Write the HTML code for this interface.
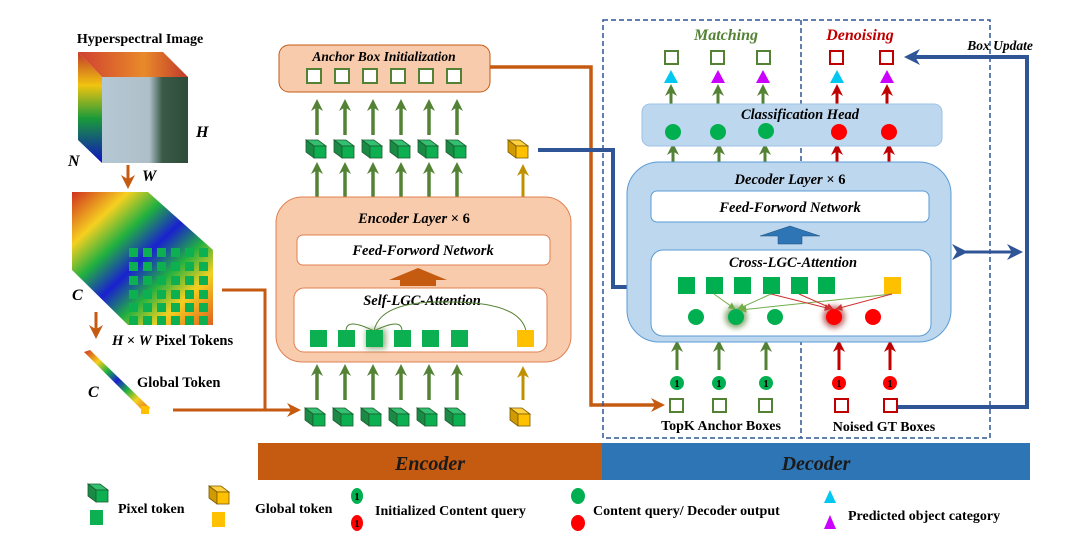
<!DOCTYPE html>
<html><head><meta charset="utf-8"><style>
html,body{margin:0;padding:0;background:#fff;width:1080px;height:552px;overflow:hidden}
svg text{font-family:"Liberation Serif",serif;font-weight:bold}
.it{font-style:italic}
</style></head><body>
<svg width="1080" height="552" viewBox="0 0 1080 552" xmlns="http://www.w3.org/2000/svg">
<defs>
<linearGradient id="rb" x1="0" y1="0" x2="0" y2="1">
<stop offset="0" stop-color="#c0392b"/><stop offset=".3" stop-color="#f1c40f"/><stop offset=".6" stop-color="#1a9a3a"/><stop offset="1" stop-color="#1010c0"/></linearGradient>
<linearGradient id="rbt" x1="0" y1="0" x2="1" y2="0">
<stop offset="0" stop-color="#d04030"/><stop offset=".6" stop-color="#e88a2a"/><stop offset="1" stop-color="#c0392b"/></linearGradient>
<linearGradient id="rbd" x1="0" y1="0" x2="1" y2="1">
<stop offset="0" stop-color="#d03020"/><stop offset=".2" stop-color="#f5d020"/><stop offset=".35" stop-color="#20b040"/><stop offset=".5" stop-color="#1a20d0"/><stop offset=".65" stop-color="#20b040"/><stop offset=".8" stop-color="#f5d020"/><stop offset="1" stop-color="#e06020"/></linearGradient>
<linearGradient id="sea" x1="0" y1="0" x2="1" y2="0">
<stop offset="0" stop-color="#b5c8d3"/><stop offset=".55" stop-color="#aebfc9"/><stop offset=".7" stop-color="#3b5a48"/><stop offset="1" stop-color="#2e4c3a"/></linearGradient>
<g id="gc"><polygon points="0,0 12,0 20,6 8,6" fill="#33c070" stroke="#1d5e30" stroke-width=".8"/><polygon points="0,0 8,6 8,18 0,12" fill="#1a8a45" stroke="#1d5e30" stroke-width=".8"/><rect x="8" y="6" width="12" height="12" fill="#0cb050" stroke="#1d5e30" stroke-width=".8"/></g>
<g id="yc"><polygon points="0,0 12,0 20,6 8,6" fill="#ffd040" stroke="#7a5a00" stroke-width=".8"/><polygon points="0,0 8,6 8,18 0,12" fill="#d09a00" stroke="#7a5a00" stroke-width=".8"/><rect x="8" y="6" width="12" height="12" fill="#ffc000" stroke="#7a5a00" stroke-width=".8"/></g>
<marker id="ag" viewBox="0 0 10 10" refX="5" refY="5" markerWidth="12" markerHeight="12" markerUnits="userSpaceOnUse" orient="auto"><path d="M0,0 L10,5 L0,10 L3,5z" fill="#548235"/></marker>
<marker id="ay" viewBox="0 0 10 10" refX="5" refY="5" markerWidth="12" markerHeight="12" markerUnits="userSpaceOnUse" orient="auto"><path d="M0,0 L10,5 L0,10 L3,5z" fill="#bf9000"/></marker>
<marker id="ar" viewBox="0 0 10 10" refX="5" refY="5" markerWidth="12" markerHeight="12" markerUnits="userSpaceOnUse" orient="auto"><path d="M0,0 L10,5 L0,10 L3,5z" fill="#c00000"/></marker>
<marker id="ao" viewBox="0 0 10 10" refX="5" refY="5" markerWidth="14" markerHeight="14" markerUnits="userSpaceOnUse" orient="auto"><path d="M0,0 L10,5 L0,10 L3,5z" fill="#c55a11"/></marker>
<marker id="ab" viewBox="0 0 10 10" refX="5" refY="5" markerWidth="16" markerHeight="16" markerUnits="userSpaceOnUse" orient="auto"><path d="M0,0 L10,5 L0,10 L3,5z" fill="#2f5597"/></marker>
<marker id="tg" viewBox="0 0 10 10" refX="9" refY="5" markerWidth="7" markerHeight="7" markerUnits="userSpaceOnUse" orient="auto"><path d="M0,0 L10,5 L0,10z" fill="#70ad47"/></marker>
<marker id="tr" viewBox="0 0 10 10" refX="9" refY="5" markerWidth="7" markerHeight="7" markerUnits="userSpaceOnUse" orient="auto"><path d="M0,0 L10,5 L0,10z" fill="#d03030"/></marker>
<filter id="glow" x="-1" y="-1" width="3" height="3"><feGaussianBlur stdDeviation="3"/></filter>
</defs>

<text x="140" y="43" font-size="14" text-anchor="middle">Hyperspectral Image</text>
<polygon points="78,52 163,52 188,77 102,77" fill="url(#rbt)"/>
<polygon points="78,52 102,77 102,163 78,140" fill="url(#rb)"/>
<rect x="102" y="77" width="86" height="86" fill="url(#sea)"/>
<text x="196" y="137" font-size="16" class="it">H</text>
<text x="68" y="166" font-size="16" class="it">N</text>
<text x="142" y="181" font-size="16" class="it">W</text>
<line x1="128" y1="165" x2="128" y2="182" stroke="#c55a11" stroke-width="3" marker-end="url(#ao)"/>
<polygon points="72,192 148,192 213,250 213,325 128,325 72,270" fill="url(#rbd)"/>
<g fill="#0cb050">
<rect x="129" y="248" width="9" height="9"/><rect x="143" y="248" width="9" height="9"/><rect x="157" y="248" width="9" height="9"/><rect x="171" y="248" width="9" height="9"/><rect x="185" y="248" width="9" height="9"/><rect x="199" y="248" width="9" height="9"/>
<rect x="129" y="262" width="9" height="9"/><rect x="143" y="262" width="9" height="9"/><rect x="157" y="262" width="9" height="9"/><rect x="171" y="262" width="9" height="9"/><rect x="185" y="262" width="9" height="9"/><rect x="199" y="262" width="9" height="9"/>
<rect x="129" y="276" width="9" height="9"/><rect x="143" y="276" width="9" height="9"/><rect x="157" y="276" width="9" height="9"/><rect x="171" y="276" width="9" height="9"/><rect x="185" y="276" width="9" height="9"/><rect x="199" y="276" width="9" height="9"/>
<rect x="129" y="290" width="9" height="9"/><rect x="143" y="290" width="9" height="9"/><rect x="157" y="290" width="9" height="9"/><rect x="171" y="290" width="9" height="9"/><rect x="185" y="290" width="9" height="9"/><rect x="199" y="290" width="9" height="9"/>
<rect x="129" y="303" width="9" height="9"/><rect x="143" y="303" width="9" height="9"/><rect x="157" y="303" width="9" height="9"/><rect x="171" y="303" width="9" height="9"/><rect x="185" y="303" width="9" height="9"/><rect x="199" y="303" width="9" height="9"/>
<rect x="129" y="316" width="9" height="9"/><rect x="143" y="316" width="9" height="9"/><rect x="157" y="316" width="9" height="9"/><rect x="171" y="316" width="9" height="9"/><rect x="185" y="316" width="9" height="9"/><rect x="199" y="316" width="9" height="9"/>
</g>
<text x="72" y="300" font-size="16" class="it">C</text>
<line x1="96" y1="312" x2="96" y2="332" stroke="#c55a11" stroke-width="3" marker-end="url(#ao)"/>
<text x="112" y="345" font-size="14.5"><tspan class="it">H</tspan> × <tspan class="it">W</tspan> Pixel Tokens</text>
<polygon points="84,352 90,350 150,408 144,412" fill="url(#rbd)"/>
<rect x="141" y="406" width="8" height="8" fill="#ffc000"/>
<text x="88" y="397" font-size="16" class="it">C</text>
<text x="137" y="387" font-size="14.5">Global  Token</text>
<polyline points="222,290 265,290 265,410" fill="none" stroke="#c55a11" stroke-width="3"/>
<line x1="173" y1="410" x2="294" y2="410" stroke="#c55a11" stroke-width="3" marker-end="url(#ao)"/>

<rect x="279" y="45" width="211" height="47" rx="10" fill="#f8cbad" stroke="#c55a11" stroke-width="1"/>
<text x="384" y="61" font-size="13.5" class="it" text-anchor="middle">Anchor Box Initialization</text>
<g fill="#fff" stroke="#548235" stroke-width="2">
<rect x="307" y="69" width="14" height="14"/><rect x="335" y="69" width="14" height="14"/><rect x="363" y="69" width="14" height="14"/><rect x="391" y="69" width="14" height="14"/><rect x="419" y="69" width="14" height="14"/><rect x="447" y="69" width="14" height="14"/>
</g>
<g stroke="#548235" stroke-width="3.5" marker-end="url(#ag)">
<line x1="317" y1="135" x2="317" y2="105"/><line x1="345" y1="135" x2="345" y2="105"/><line x1="373" y1="135" x2="373" y2="105"/><line x1="401" y1="135" x2="401" y2="105"/><line x1="429" y1="135" x2="429" y2="105"/><line x1="457" y1="135" x2="457" y2="105"/>
<line x1="317" y1="198" x2="317" y2="168"/><line x1="345" y1="198" x2="345" y2="168"/><line x1="373" y1="198" x2="373" y2="168"/><line x1="401" y1="198" x2="401" y2="168"/><line x1="429" y1="198" x2="429" y2="168"/><line x1="457" y1="198" x2="457" y2="168"/>
<line x1="317" y1="400" x2="317" y2="370"/><line x1="345" y1="400" x2="345" y2="370"/><line x1="373" y1="400" x2="373" y2="370"/><line x1="401" y1="400" x2="401" y2="370"/><line x1="429" y1="400" x2="429" y2="370"/><line x1="457" y1="400" x2="457" y2="370"/>
</g>
<g stroke="#bf9000" stroke-width="3" marker-end="url(#ay)"><line x1="523" y1="198" x2="523" y2="170"/><line x1="523" y1="400" x2="523" y2="372"/></g>
<use href="#gc" x="306" y="140"/><use href="#gc" x="334" y="140"/><use href="#gc" x="362" y="140"/><use href="#gc" x="390" y="140"/><use href="#gc" x="418" y="140"/><use href="#gc" x="446" y="140"/>
<use href="#yc" x="508" y="140"/>
<use href="#gc" x="305" y="408"/><use href="#gc" x="333" y="408"/><use href="#gc" x="361" y="408"/><use href="#gc" x="389" y="408"/><use href="#gc" x="417" y="408"/><use href="#gc" x="445" y="408"/>
<use href="#yc" x="510" y="408"/>
<rect x="276" y="197" width="295" height="165" rx="26" fill="#f8cbad" stroke="#e08050" stroke-width="1"/>
<text x="414" y="223" font-size="14.5" class="it" text-anchor="middle">Encoder Layer <tspan font-style="normal">× 6</tspan></text>
<rect x="297" y="235" width="253" height="30" rx="6" fill="#fff" stroke="#e08050"/>
<text x="423" y="255" font-size="14.5" class="it" text-anchor="middle">Feed-Forword Network</text>
<polygon points="400,286 400,280 389,280 418,268 447,280 436,280 436,286" fill="#c55a11"/>
<rect x="294" y="288" width="253" height="64" rx="10" fill="#fff" stroke="#e08050"/>
<text x="422" y="305" font-size="14.5" class="it" text-anchor="middle">Self-LGC-Attention</text>
<path d="M346,331 Q346,317 374,331 Q402,317 402,331" fill="none" stroke="#548235" stroke-width="1"/>
<path d="M374,331 Q380,300 450,302 Q520,302 526,331" fill="none" stroke="#548235" stroke-width="1"/>
<rect x="366" y="329" width="20" height="20" fill="#548235" opacity=".6" filter="url(#glow)"/>
<g fill="#0cb050"><rect x="310" y="330" width="17" height="17"/><rect x="338" y="330" width="17" height="17"/><rect x="366" y="330" width="17" height="17"/><rect x="394" y="330" width="17" height="17"/><rect x="422" y="330" width="17" height="17"/><rect x="451" y="330" width="17" height="17"/></g>
<rect x="517" y="330" width="17" height="17" fill="#ffc000"/>
<polyline points="490,67 591,67 591,405 658,405" fill="none" stroke="#c55a11" stroke-width="3.5" marker-end="url(#ao)"/>
<polyline points="538,150 613,150 613,287 670,287" fill="none" stroke="#2f5597" stroke-width="4" marker-end="url(#ab)"/>

<rect x="258" y="443" width="344" height="37" fill="#c55a11"/>
<rect x="602" y="443" width="428" height="37" fill="#2e75b6"/>
<text x="430" y="470" font-size="20" class="it" text-anchor="middle" fill="#1a1a1a">Encoder</text>
<text x="816" y="470" font-size="20" class="it" text-anchor="middle" fill="#1a1a1a">Decoder</text>

<rect x="603" y="20" width="387" height="418" fill="none" stroke="#2f5597" stroke-width="1.5" stroke-dasharray="5,3"/>
<line x1="801" y1="20" x2="801" y2="438" stroke="#2f5597" stroke-width="1.5" stroke-dasharray="5,3"/>
<text x="726" y="40" font-size="16" class="it" text-anchor="middle" fill="#548235">Matching</text>
<text x="860" y="40" font-size="16" class="it" text-anchor="middle" fill="#c00000">Denoising</text>
<text x="1000" y="50" font-size="13.5" class="it" text-anchor="middle">Box Update</text>
<g fill="#fff" stroke-width="2"><rect x="665" y="51" width="13" height="13" stroke="#548235"/><rect x="711" y="51" width="13" height="13" stroke="#548235"/><rect x="757" y="51" width="13" height="13" stroke="#548235"/><rect x="830" y="51" width="13" height="13" stroke="#c00000"/><rect x="880" y="51" width="13" height="13" stroke="#c00000"/></g>
<polygon points="671,70 678,83 664,83" fill="#00c8f0"/><polygon points="718,70 725,83 711,83" fill="#cc00ff"/><polygon points="763,70 770,83 756,83" fill="#cc00ff"/>
<polygon points="837,70 844,83 830,83" fill="#00c8f0"/><polygon points="887,70 894,83 880,83" fill="#cc00ff"/>
<g stroke="#548235" stroke-width="3" marker-end="url(#ag)"><line x1="671" y1="104" x2="671" y2="90"/><line x1="718" y1="104" x2="718" y2="90"/><line x1="763" y1="104" x2="763" y2="90"/><line x1="673" y1="163" x2="673" y2="149"/><line x1="719" y1="163" x2="719" y2="149"/><line x1="765" y1="163" x2="765" y2="149"/>
<line x1="677" y1="370" x2="677" y2="346"/><line x1="719" y1="370" x2="719" y2="346"/><line x1="766" y1="370" x2="766" y2="346"/></g>
<g stroke="#c00000" stroke-width="3" marker-end="url(#ar)"><line x1="837" y1="104" x2="837" y2="90"/><line x1="887" y1="104" x2="887" y2="90"/><line x1="837" y1="163" x2="837" y2="149"/><line x1="889" y1="163" x2="889" y2="149"/><line x1="839" y1="370" x2="839" y2="346"/><line x1="890" y1="370" x2="890" y2="346"/></g>
<rect x="642" y="104" width="300" height="42" rx="8" fill="#bdd7ee" stroke="#9dc3e6"/>
<text x="800" y="119" font-size="14.5" class="it" text-anchor="middle">Classification Head</text>
<circle cx="673" cy="132" r="8" fill="#00b050"/><circle cx="718" cy="132" r="8" fill="#00b050"/><circle cx="766" cy="131" r="8" fill="#00b050"/><circle cx="839" cy="132" r="8" fill="#ff0000"/><circle cx="889" cy="132" r="8" fill="#ff0000"/>
<rect x="627" y="162" width="324" height="180" rx="32" fill="#bdd7ee" stroke="#5b9bd5"/>
<text x="790" y="184" font-size="14.5" class="it" text-anchor="middle">Decoder Layer <tspan font-style="normal">× 6</tspan></text>
<rect x="651" y="191" width="278" height="31" rx="6" fill="#fff" stroke="#5b9bd5"/>
<text x="790" y="212" font-size="14.5" class="it" text-anchor="middle">Feed-Forword Network</text>
<polygon points="778,244 778,236 760,236 790,226 820,236 802,236 802,244" fill="#2e75b6" stroke="#1f4e79" stroke-width=".5"/>
<rect x="651" y="250" width="280" height="86" rx="12" fill="#fff" stroke="#5b9bd5"/>
<text x="793" y="267" font-size="14.5" class="it" text-anchor="middle">Cross-LGC-Attention</text>
<circle cx="736" cy="317" r="11" fill="#548235" opacity=".7" filter="url(#glow)"/>
<circle cx="834" cy="317" r="11" fill="#a02020" opacity=".7" filter="url(#glow)"/>
<g fill="#00b050"><rect x="678" y="277" width="17" height="17"/><rect x="706" y="277" width="17" height="17"/><rect x="734" y="277" width="17" height="17"/><rect x="763" y="277" width="17" height="17"/><rect x="791" y="277" width="17" height="17"/><rect x="818" y="277" width="17" height="17"/></g>
<rect x="884" y="277" width="17" height="17" fill="#ffc000"/>
<g fill="#00b050"><circle cx="696" cy="317" r="8"/><circle cx="736" cy="317" r="8"/><circle cx="775" cy="317" r="8"/></g>
<g fill="#ff0000"><circle cx="834" cy="317" r="8"/><circle cx="873" cy="317" r="8"/></g>
<g stroke="#70ad47" stroke-width="1" marker-end="url(#tg)"><line x1="714" y1="294" x2="735" y2="309"/><line x1="771" y1="294" x2="738" y2="309"/><line x1="892" y1="294" x2="740" y2="310"/></g>
<g stroke="#d03030" stroke-width="1" marker-end="url(#tr)"><line x1="771" y1="294" x2="831" y2="309"/><line x1="799" y1="294" x2="833" y2="309"/><line x1="892" y1="294" x2="836" y2="309"/></g>
<line x1="960" y1="252" x2="1015" y2="252" stroke="#2f5597" stroke-width="3" marker-start="url(#ab)" marker-end="url(#ab)"/>
<polyline points="898,407 1027,407 1027,57 912,57" fill="none" stroke="#2f5597" stroke-width="4" marker-end="url(#ab)"/>
<g font-size="11" text-anchor="middle">
<circle cx="677" cy="383" r="7" fill="#00b050"/><text x="677" y="387">1</text>
<circle cx="719" cy="383" r="7" fill="#00b050"/><text x="719" y="387">1</text>
<circle cx="766" cy="383" r="7" fill="#00b050"/><text x="766" y="387">1</text>
<circle cx="839" cy="383" r="7" fill="#ff0000"/><text x="839" y="387">1</text>
<circle cx="890" cy="383" r="7" fill="#ff0000"/><text x="890" y="387">1</text>
</g>
<g fill="#fff" stroke-width="2"><rect x="670" y="399" width="13" height="13" stroke="#548235"/><rect x="713" y="399" width="13" height="13" stroke="#548235"/><rect x="759" y="399" width="13" height="13" stroke="#548235"/><rect x="835" y="399" width="13" height="13" stroke="#c00000"/><rect x="884" y="399" width="13" height="13" stroke="#c00000"/></g>
<text x="721" y="430" font-size="14" text-anchor="middle">TopK Anchor Boxes</text>
<text x="884" y="431" font-size="14" text-anchor="middle">Noised GT Boxes</text>

<use href="#gc" x="88" y="484"/>
<rect x="90" y="510" width="13" height="15" fill="#0cb050"/>
<text x="118" y="513" font-size="14">Pixel token</text>
<use href="#yc" x="209" y="486"/>
<rect x="212" y="512" width="13" height="15" fill="#ffc000"/>
<text x="255" y="513" font-size="14">Global token</text>
<ellipse cx="357" cy="496" rx="6" ry="8" fill="#00b050"/><text x="357" y="500" font-size="11" text-anchor="middle">1</text>
<ellipse cx="357" cy="523" rx="6" ry="8" fill="#ff0000"/><text x="357" y="527" font-size="11" text-anchor="middle">1</text>
<text x="375" y="515" font-size="14">Initialized Content query</text>
<ellipse cx="578" cy="496" rx="7" ry="8" fill="#00b050"/>
<ellipse cx="578" cy="523" rx="7" ry="8" fill="#ff0000"/>
<text x="593" y="515" font-size="14">Content query/ Decoder output</text>
<polygon points="830,490 836,503 824,503" fill="#00c8f0"/>
<polygon points="830,515 836,529 824,529" fill="#cc00ff"/>
<text x="848" y="520" font-size="14">Predicted object category</text>
</svg>
</body></html>
